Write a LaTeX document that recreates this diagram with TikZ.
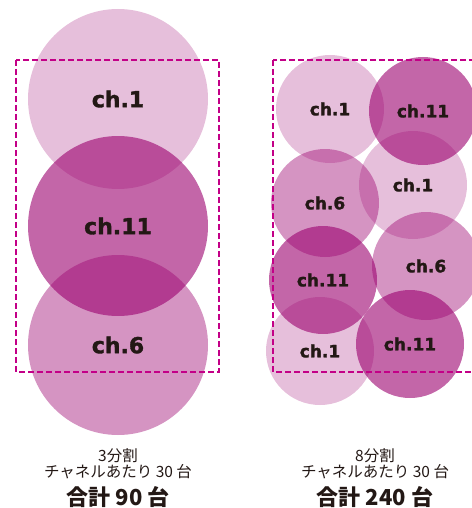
\documentclass[tikz,border=0pt]{standalone}
\usepackage{fontspec}
\newfontfamily\chfont{DejaVu Sans}[BoldFeatures={FakeBold=1.6}]
\newfontfamily\jpfont{Noto Sans CJK JP}
\definecolor{chmag}{RGB}{155,0,110}
\definecolor{frame}{RGB}{195,0,135}
\definecolor{ink}{RGB}{35,24,21}

\begin{document}
\begin{tikzpicture}[x=1pt,y=-1pt,
  chan/.style={circle, inner sep=0pt, fill=chmag, text=ink, text opacity=1},
  big/.style={chan, minimum size=180pt, font=\chfont\bfseries\fontsize{22pt}{22pt}\selectfont},
  small/.style={chan, minimum size=108pt, font=\chfont\bfseries\fontsize{17pt}{17pt}\selectfont},
  band/.style={draw=frame, line width=1.2pt, dash pattern=on 6pt off 3pt},
  note/.style={font=\jpfont\fontsize{15.5pt}{16pt}\selectfont, text=ink, inner sep=0pt},
  total/.style={font=\jpfont\bfseries\fontsize{22pt}{22pt}\selectfont, text=ink, inner sep=0pt}]
\useasboundingbox (0,0) rectangle (471,508);

% 3 channels
\foreach \y/\o/\t [count=\i] in {99/.25/ch.1, 226/.6/ch.11, 345/.42/ch.6}
  \node[big, fill opacity=\o] (left\i) at (118,\y) {\t};

% 8 cells
\foreach \x/\y/\o/\t [count=\i] in {330/109/.25/ch.1, 423/111/.6/ch.11,
  325/203/.42/ch.6, 413/185/.25/ch.1, 323/280/.6/ch.11, 426/266/.42/ch.6,
  320/351/.25/ch.1, 410/344/.6/ch.11}
  \node[small, fill opacity=\o] (right\i) at (\x,\y) {\t};

\draw[band] (16,60) rectangle (219,372);
\draw[band] (273,60) rectangle (476,372);

\node[note] (splitL) at (118,456) {3分割};
\node[note] (perL) at (118,472) {チャネルあたり 30 台};
\node[total] (sumL) at (118,497) {合計 90 台};

\node[note] (splitR) at (375,456) {8分割};
\node[note] (perR) at (375,472) {チャネルあたり 30 台};
\node[total] (sumR) at (375,497) {合計 240 台};
\end{tikzpicture}
\end{document}
